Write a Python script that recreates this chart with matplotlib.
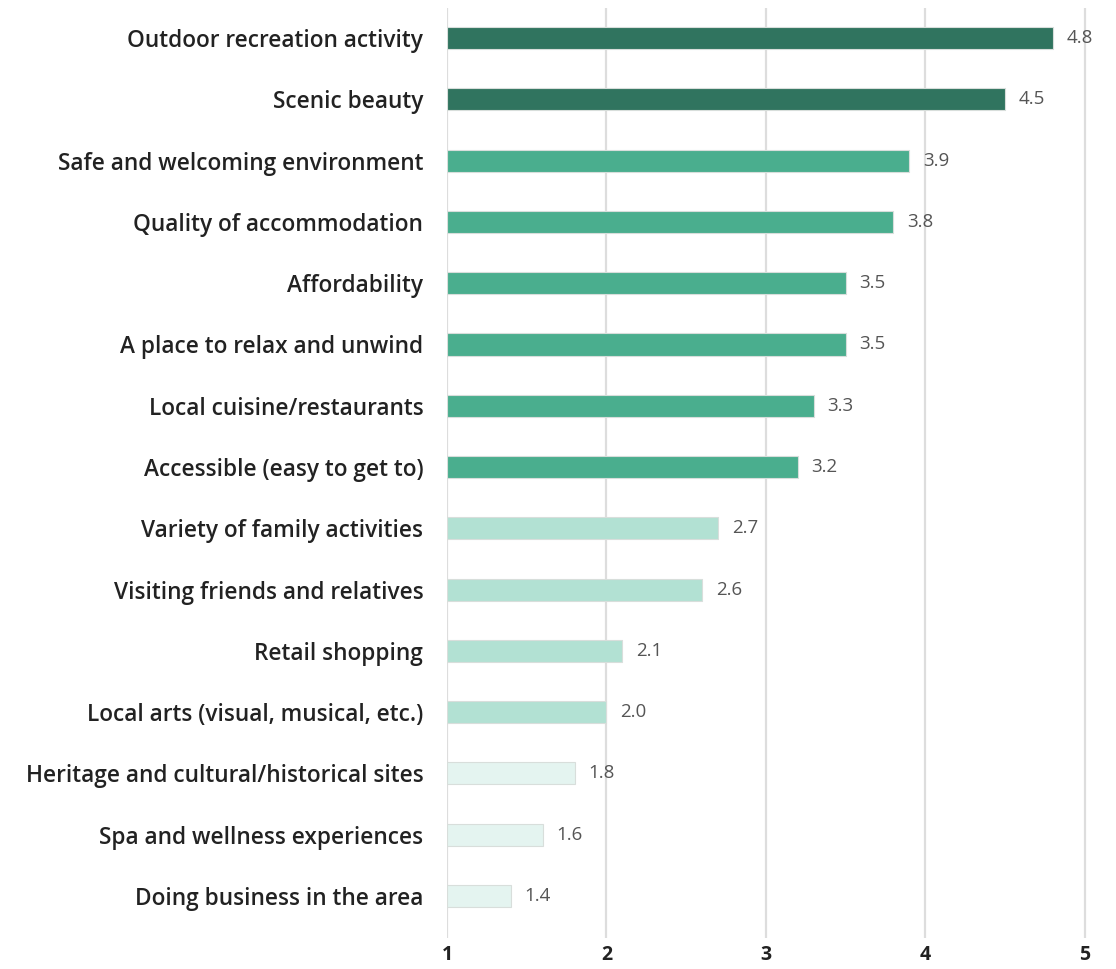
import numpy as np
import matplotlib
matplotlib.use("Agg")
from matplotlib import pyplot as plt

plt.rcParams['font.family'] = ['Open Sans', 'DejaVu Sans']

labels = ["Outdoor recreation activity", "Scenic beauty",
          "Safe and welcoming environment", "Quality of accommodation",
          "Affordability", "A place to relax and unwind",
          "Local cuisine/restaurants", "Accessible (easy to get to)",
          "Variety of family activities", "Visiting friends and relatives",
          "Retail shopping", "Local arts (visual, musical, etc.)",
          "Heritage and cultural/historical sites", "Spa and wellness experiences",
          "Doing business in the area"]
scores = [4.8, 4.5, 3.9, 3.8, 3.5, 3.5, 3.3, 3.2, 2.7, 2.6, 2.1, 2.0, 1.8, 1.6, 1.4]
tier = [0, 0, 1, 1, 1, 1, 1, 1, 2, 2, 2, 2, 3, 3, 3]
tier_colors = ["#30745f", "#4aae8e", "#b2e1d3", "#e4f4f0"]
xticks = [1, 2, 3, 4, 5]

fig = plt.figure(figsize=(11.16, 9.69), dpi=100)
ax = fig.add_axes([0.4005, 0.032, 0.593, 0.9597])

y = np.arange(len(labels))
base = 1
ax.barh(y, np.array(scores) - base, left=base, height=0.36,
        color=[tier_colors[t] for t in tier], edgecolor="#d8dedb", linewidth=0.8, zorder=3)

# value labels just right of each bar
for yi, v in zip(y, scores):
    ax.annotate(f"{v:.1f}", (v, yi), xytext=(10, 0), textcoords="offset points",
                va="center", ha="left", fontsize=13.5, color="#555555", zorder=4)

ax.set_xlim(1, 5.15)
ax.set_ylim(14.685, -0.49)
ax.set_xticks(xticks)
ax.set_xticklabels([str(t) for t in xticks], fontsize=14, fontweight="bold", color="#222222")
ax.set_yticks(y)
ax.set_yticklabels(labels, fontsize=16.3, fontweight="semibold", color="#222222")
ax.tick_params(axis="both", length=0)
ax.tick_params(axis="y", pad=17)
ax.tick_params(axis="x", pad=5)
ax.grid(axis="x", color="#dddddd", linewidth=1.6, zorder=0)
for s in ax.spines.values():
    s.set_visible(False)

plt.savefig("out.png", dpi=100)
